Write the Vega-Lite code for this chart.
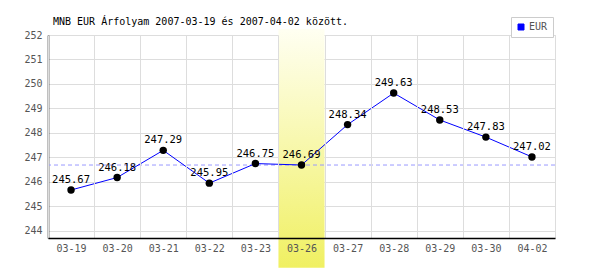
{
  "$schema": "https://vega.github.io/schema/vega-lite/v6.json",
  "autosize": "none",
  "width": 507,
  "height": 203,
  "padding": {"left": 48, "top": 35, "right": 45, "bottom": 32},
  "background": "white",
  "title": {
    "text": "MNB EUR Árfolyam 2007-03-19 és 2007-04-02 között.",
    "anchor": "start",
    "frame": "group",
    "dx": 5,
    "offset": -10,
    "font": "DejaVu Sans Mono",
    "fontSize": 10,
    "fontWeight": "normal",
    "color": "#000000"
  },
  "config": {
    "view": {"stroke": "#dddddd"},
    "font": "DejaVu Sans Mono"
  },
  "data": {
    "values": [
      {"date": "03-19", "value": 245.67, "series": "EUR"},
      {"date": "03-20", "value": 246.18, "series": "EUR"},
      {"date": "03-21", "value": 247.29, "series": "EUR"},
      {"date": "03-22", "value": 245.95, "series": "EUR"},
      {"date": "03-23", "value": 246.75, "series": "EUR"},
      {"date": "03-26", "value": 246.69, "series": "EUR"},
      {"date": "03-27", "value": 248.34, "series": "EUR"},
      {"date": "03-28", "value": 249.63, "series": "EUR"},
      {"date": "03-29", "value": 248.53, "series": "EUR"},
      {"date": "03-30", "value": 247.83, "series": "EUR"},
      {"date": "04-02", "value": 247.02, "series": "EUR"}
    ]
  },
  "encoding": {
    "x": {
      "field": "date",
      "type": "ordinal",
      "sort": null,
      "scale": {
        "type": "band",
        "paddingInner": 0,
        "paddingOuter": 0,
        "domain": ["03-19", "03-20", "03-21", "03-22", "03-23", "03-26", "03-27", "03-28", "03-29", "03-30", "04-02"]
      },
      "axis": {
        "title": null,
        "labelAngle": 0,
        "ticks": false,
        "grid": true,
        "tickBand": "extent",
        "gridColor": "#dddddd",
        "domainColor": "#000000",
        "domainWidth": 1.5,
        "labelColor": "#555555",
        "labelFont": "DejaVu Sans Mono",
        "labelFontSize": 10,
        "labelPadding": 5,
        "labelOverlap": false,
        "zindex": 1
      }
    },
    "y": {
      "field": "value",
      "type": "quantitative",
      "scale": {"domain": [243.71, 252], "nice": false, "zero": false},
      "axis": {
        "title": null,
        "values": [244, 245, 246, 247, 248, 249, 250, 251, 252],
        "tickCount": 9,
        "labelOverlap": false,
        "ticks": false,
        "grid": true,
        "gridColor": "#dddddd",
        "domainColor": "#000000",
        "domainWidth": 1.5,
        "labelColor": "#555555",
        "labelFont": "DejaVu Sans Mono",
        "labelFontSize": 10,
        "labelPadding": 6,
        "zindex": 0
      }
    }
  },
  "layer": [
    {
      "transform": [{"filter": "datum.date == '03-26'"}],
      "mark": {
        "type": "rect",
        "clip": false,
        "color": {
          "gradient": "linear",
          "x1": 0, "y1": 0, "x2": 0, "y2": 1,
          "stops": [
            {"offset": 0, "color": "#fffff2"},
            {"offset": 1, "color": "#f0f062"}
          ]
        }
      },
      "encoding": {
        "y": {"datum": 252.25, "type": "quantitative"},
        "y2": {"datum": 242.5}
      }
    },
    {
      "transform": [{"filter": "datum.date == '03-26'"}],
      "mark": {"type": "rule", "color": "#9999ff", "strokeDash": [4, 3], "strokeWidth": 1},
      "encoding": {
        "x": null
      }
    },
    {
      "mark": {"type": "line", "strokeWidth": 1},
      "encoding": {
        "color": {
          "field": "series",
          "type": "nominal",
          "scale": {"range": ["#0000ff"]},
          "legend": {
            "title": null,
            "orient": "none",
            "legendX": 463,
            "legendY": -18,
            "padding": 5,
            "strokeColor": "#cccccc",
            "fillColor": "#ffffff",
            "symbolType": "square",
            "symbolSize": 36,
            "symbolFillColor": "#0000ff",
            "symbolStrokeColor": "#333366",
            "symbolStrokeWidth": 1,
            "labelOffset": 3,
            "labelFont": "DejaVu Sans Mono",
            "labelFontSize": 10,
            "labelColor": "#555555",
            "encode": {
              "symbols": {"update": {"fill": {"value": "#0000ff"}, "stroke": {"value": "#333366"}, "strokeWidth": {"value": 1}}}
            }
          }
        }
      }
    },
    {
      "mark": {"type": "point", "filled": true, "color": "#000000", "size": 55, "opacity": 1},
      "encoding": {}
    },
    {
      "mark": {"type": "text", "dy": -10, "fontSize": 10.5, "font": "DejaVu Sans Mono", "color": "#000000"},
      "encoding": {
        "text": {"field": "value", "type": "quantitative", "format": ".2f"}
      }
    }
  ]
}
